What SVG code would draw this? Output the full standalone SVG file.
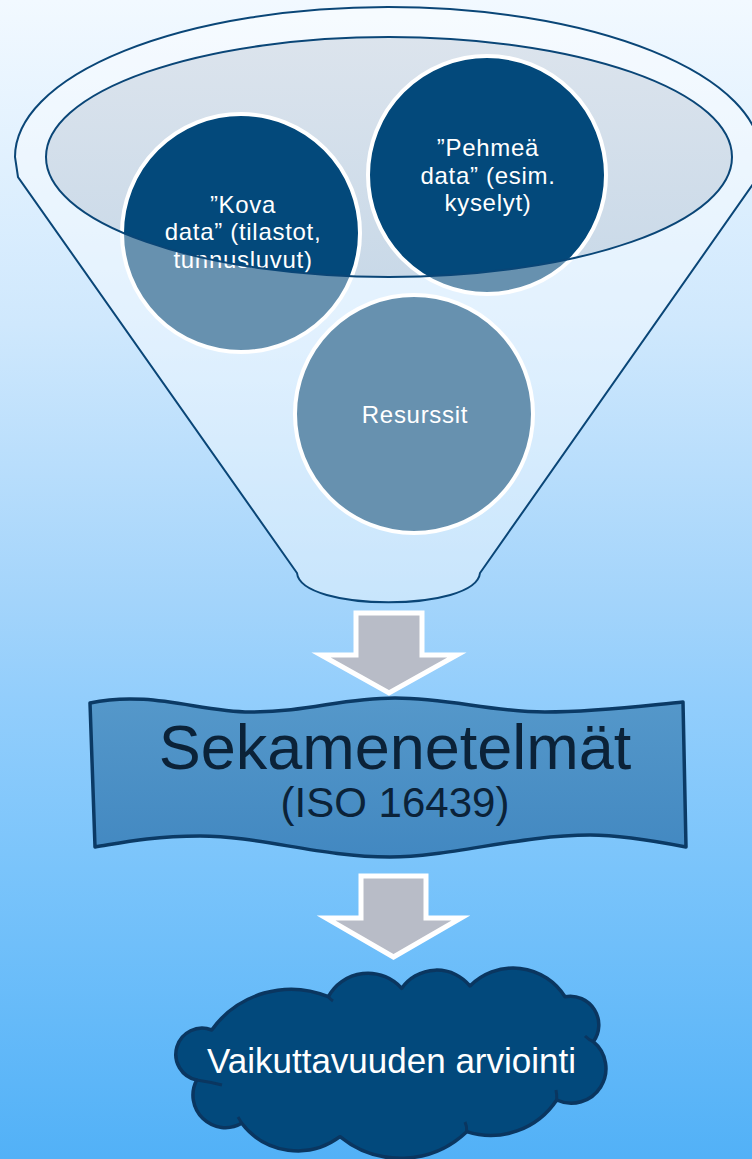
<svg xmlns="http://www.w3.org/2000/svg" width="752" height="1159" viewBox="0 0 752 1159">
<defs>
<linearGradient id="bg" x1="0" y1="0" x2="0" y2="1">
<stop offset="0" stop-color="#f2f9ff"/>
<stop offset="0.28" stop-color="#cfe8fd"/>
<stop offset="0.52" stop-color="#a3d4fb"/>
<stop offset="0.6" stop-color="#93cefc"/>
<stop offset="0.75" stop-color="#7ac4fb"/>
<stop offset="1" stop-color="#52b1f7"/>
</linearGradient>
<linearGradient id="ell" x1="0" y1="0" x2="0" y2="1">
<stop offset="0" stop-color="#dce4ed"/>
<stop offset="1" stop-color="#c9d9e8"/>
</linearGradient>
<linearGradient id="ban" x1="0" y1="0" x2="0" y2="1">
<stop offset="0" stop-color="#5598ca"/>
<stop offset="1" stop-color="#4288c1"/>
</linearGradient>
<style>
.circ{fill:#03497b;stroke:#ffffff;stroke-width:4}
.ctext{font-family:"Liberation Sans",Arial,sans-serif;font-size:24px;letter-spacing:0.7px;fill:#ffffff;text-anchor:middle}
.outline{fill:none;stroke:#0a4677;stroke-width:2}
.arrow{fill:#b8bcc7;stroke:#ffffff;stroke-width:5;stroke-linejoin:miter}
</style>
</defs>
<rect x="0" y="0" width="752" height="1159" fill="url(#bg)"/>

<g id="funnel">
<ellipse cx="389" cy="157" rx="343" ry="120" fill="url(#ell)"/>
<g id="node-kova">
<circle class="circ" cx="241" cy="233" r="119"/>
</g>
<g id="node-pehmea">
<circle class="circ" cx="487" cy="175" r="119"/>
</g>
<g id="node-resurssit">
<circle class="circ" cx="414" cy="414" r="119"/>
</g>
<path fill="#ffffff" fill-opacity="0.4" fill-rule="evenodd" d="M18,177 L15,157 A373,150 0 0 1 761,157 L758,177 L480,573 C476,612 301,612 297,573 Z M46,157 A343,120 0 0 0 732,157 A343,120 0 0 0 46,157 Z"/>
<text class="ctext" x="243" y="213">”Kova</text>
<text class="ctext" x="243" y="240">data” (tilastot,</text>
<text class="ctext" x="243" y="268">tunnusluvut)</text>
<text class="ctext" x="488" y="156">”Pehmeä</text>
<text class="ctext" x="488" y="183.5">data” (esim.</text>
<text class="ctext" x="488" y="211">kyselyt)</text>
<text class="ctext" x="415" y="423">Resurssit</text>
<path class="outline" d="M18,177 L15,157 A373,150 0 0 1 761,157 L758,177 L480,573 C476,612 301,612 297,573 Z"/>
<ellipse class="outline" cx="389" cy="157" rx="343" ry="120"/>
</g>

<g id="connectors">
<polygon class="arrow" points="356,613 422,613 422,655 457,655 389,693 321,655 356,655"/>
<polygon class="arrow" points="361,876 426,876 426,918 461,918 393.5,957 326,918 361,918"/>
</g>

<g id="node-sekamenetelmat">
<path d="M90,703 C150,690 200,712 250,712 C310,712 340,698 395,698 C450,698 490,712 545,712 C600,712 650,705 683,702 L686,847 C650,840 620,835 590,835 C520,835 450,857 390,857 C320,857 260,836 200,836 C150,836 120,843 95,847 Z" fill="url(#ban)" stroke="#0b3a65" stroke-width="3.5" stroke-linejoin="round"/>
<text x="395" y="769" font-family="'Liberation Sans',Arial,sans-serif" font-size="63" fill="#0b2238" text-anchor="middle">Sekamenetelmät</text>
<text x="395" y="817" font-family="'Liberation Sans',Arial,sans-serif" font-size="42" fill="#0b2238" text-anchor="middle">(ISO 16439)</text>
</g>

<g id="node-vaikuttavuus">
<path d="M211.7,1030 A97.6,97.6 0 0 1 328.3,996.7 A45.3,45.3 0 0 1 401.7,988.3 A42.8,42.8 0 0 1 470,986 A61,61 0 0 1 565,996.7 A28.6,28.6 0 0 1 593.3,1041.7 A34.7,34.7 0 0 1 556.7,1100 A79,79 0 0 1 466.7,1131.7 A95.7,95.7 0 0 1 340,1136.7 A70.5,70.5 0 0 1 241.7,1123.3 A32.5,32.5 0 0 1 196.7,1080 A26.2,26.2 0 1 1 211.7,1030 Z" fill="#02497c" stroke="#0a3660" stroke-width="3.5" stroke-linejoin="round"/>
<g fill="none" stroke="#0a3660" stroke-width="3">
<path d="M196.7,1080 Q210,1082 222,1085"/>
<path d="M593.3,1041.7 Q589,1040 585,1036"/>
<path d="M328.3,996.7 Q330,999 333,1001"/>
<path d="M556.7,1100 Q557,1095 556,1090"/>
<path d="M466.7,1131.7 Q467,1126 465,1122"/>
<path d="M241.7,1123.3 Q240,1120 238,1117"/>
</g>
<text x="391.5" y="1073" font-family="'Liberation Sans',Arial,sans-serif" font-size="35" fill="#ffffff" text-anchor="middle">Vaikuttavuuden arviointi</text>
</g>
</svg>
